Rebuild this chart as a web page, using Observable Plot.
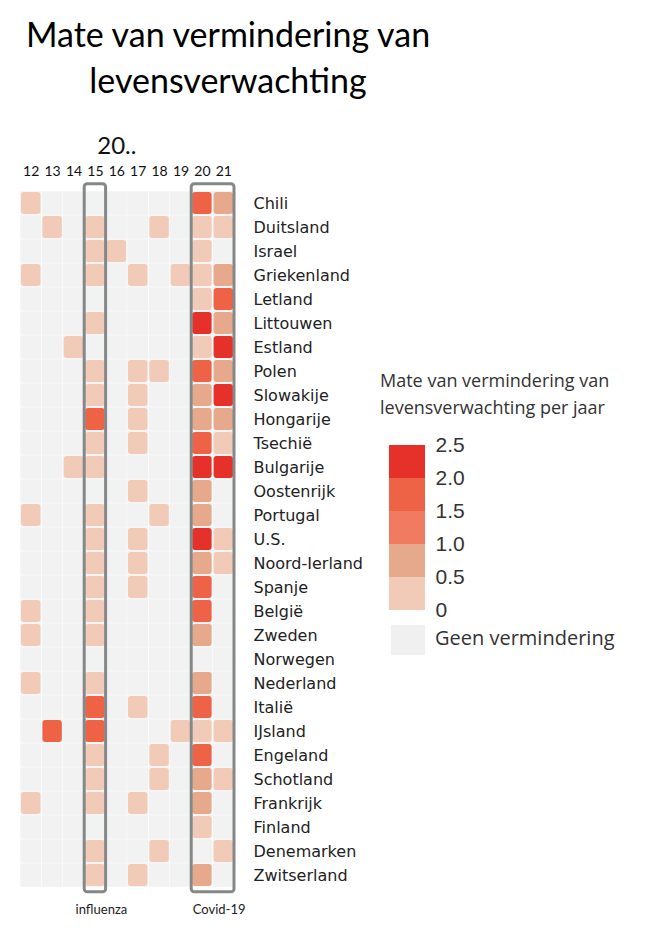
<!DOCTYPE html>
<html>
<head>
<meta charset="utf-8">
<script src="https://cdn.jsdelivr.net/npm/d3@7"></script>
<script src="https://cdn.jsdelivr.net/npm/@observablehq/plot@0.6"></script>
<style>
  body { margin: 0; background: #fff; }
  #wrap { position: relative; width: 672px; height: 933px; overflow: hidden; background: #fff; }
  #title { position: absolute; left: 0; top: 11px; width: 456px; text-align: center; font-family: Lato, sans-serif; font-size: 34px; line-height: 46px; color: #000; }
  #chart { position: absolute; left: 0; top: 120px; }
  #legendbox { position: absolute; left: 366px; top: 360px; width: 280px; height: 305px; background: #fff; }
  #legend-title { position: absolute; left: 14px; top: 7px; font-family: "Open Sans", sans-serif; font-size: 18px; line-height: 27px; color: #333; white-space: nowrap; }
  #legend { position: absolute; left: 23px; top: 70px; }
  #nodecl { position: absolute; left: 25px; top: 265px; width: 34px; height: 30px; background: #f0f0f0; }
  #nodecl-label { position: absolute; left: 69px; top: 263px; font-family: "Open Sans", sans-serif; font-size: 20px; line-height: 30px; color: #333; white-space: nowrap; }
</style>
</head>
<body>
<div id="wrap">
  <div id="title">Mate van vermindering van<br>levensverwachting</div>
  <div id="chart"></div>
  <div id="legendbox">
    <div id="legend-title">Mate van vermindering van<br>levensverwachting per jaar</div>
    <div id="legend"></div>
    <div id="nodecl"></div>
    <div id="nodecl-label">Geen vermindering</div>
  </div>
</div>
<script>
// ---- data ----
const yearPrefix = "20..";
const years = [12, 13, 14, 15, 16, 17, 18, 19, 20, 21];
const countries = ["Chili", "Duitsland", "Israel", "Griekenland", "Letland", "Littouwen", "Estland",
  "Polen", "Slowakije", "Hongarije", "Tsechië", "Bulgarije", "Oostenrijk", "Portugal", "U.S.",
  "Noord-Ierland", "Spanje", "België", "Zweden", "Norwegen", "Nederland", "Italië", "IJsland",
  "Engeland", "Schotland", "Frankrijk", "Finland", "Denemarken", "Zwitserland"];
// decline in life expectancy (years) per country, for years 2012..2021 (0 = no decline)
const chili         = [0.2, 0,   0,   0,   0,   0,   0,   0,   1.7, 0.8];
const duitsland     = [0,   0.2, 0,   0.3, 0,   0,   0.2, 0,   0.3, 0.3];
const israel        = [0,   0,   0,   0.2, 0.2, 0,   0,   0,   0.3, 0];
const griekenland   = [0.2, 0,   0,   0.3, 0,   0.2, 0,   0.2, 0.4, 0.7];
const letland       = [0,   0,   0,   0,   0,   0,   0,   0,   0.3, 1.7];
const littouwen     = [0,   0,   0,   0.3, 0,   0,   0,   0,   2.2, 0.7];
const estland       = [0,   0,   0.2, 0,   0,   0,   0,   0,   0.3, 2.3];
const polen         = [0,   0,   0,   0.3, 0,   0.2, 0.2, 0,   1.6, 0.8];
const slowakije     = [0,   0,   0,   0.3, 0,   0.2, 0,   0,   0.8, 2.2];
const hongarije     = [0,   0,   0,   1.6, 0,   0.2, 0,   0,   0.7, 0.8];
const tsechie       = [0,   0,   0,   0.3, 0,   0.2, 0,   0,   1.7, 0.4];
const bulgarije     = [0,   0,   0.2, 0.3, 0,   0,   0,   0,   2.3, 2.3];
const oostenrijk    = [0,   0,   0,   0,   0,   0.2, 0,   0,   0.8, 0];
const portugal      = [0.2, 0,   0,   0.2, 0,   0,   0.2, 0,   0.8, 0];
const us            = [0,   0,   0,   0.3, 0,   0.2, 0,   0,   2.2, 0.4];
const noordIerland  = [0,   0,   0,   0.3, 0,   0.2, 0,   0,   0.7, 0.3];
const spanje        = [0,   0,   0,   0.3, 0,   0.2, 0,   0,   1.6, 0];
const belgie        = [0.2, 0,   0,   0.3, 0,   0,   0,   0,   1.7, 0];
const zweden        = [0.2, 0,   0,   0.3, 0,   0,   0,   0,   0.8, 0];
const norwegen      = [0,   0,   0,   0,   0,   0,   0,   0,   0,   0];
const nederland     = [0.2, 0,   0,   0.3, 0,   0,   0,   0,   0.7, 0];
const italie        = [0,   0,   0,   1.7, 0,   0.2, 0,   0,   1.7, 0];
const ijsland       = [0,   1.7, 0,   1.7, 0,   0,   0,   0.2, 0.3, 0.3];
const engeland      = [0,   0,   0,   0.3, 0,   0,   0.2, 0,   1.8, 0];
const schotland     = [0,   0,   0,   0.3, 0,   0,   0.2, 0,   0.8, 0.3];
const frankrijk     = [0.2, 0,   0,   0.3, 0,   0.2, 0,   0,   0.7, 0];
const finland       = [0,   0,   0,   0,   0,   0,   0,   0,   0.3, 0];
const denemarken    = [0,   0,   0,   0.3, 0,   0,   0.2, 0,   0,   0.3];
const zwitserland   = [0,   0,   0,   0.3, 0,   0.2, 0,   0,   0.8, 0];

const rows = [chili, duitsland, israel, griekenland, letland, littouwen, estland, polen, slowakije,
  hongarije, tsechie, bulgarije, oostenrijk, portugal, us, noordIerland, spanje, belgie, zweden,
  norwegen, nederland, italie, ijsland, engeland, schotland, frankrijk, finland, denemarken, zwitserland];

const binEdges = [0, 0.5, 1.0, 1.5, 2.0, 2.5];
const binColors = ["#f2cab8", "#e6a98b", "#f07b60", "#ee6345", "#e6302a"];
const noDeclineColor = "#f2f2f2";
const highlights = [
  {label: "influenza", from: 15, to: 15},
  {label: "Covid-19", from: 20, to: 21}
];

// ---- table ----
const table = [];
rows.forEach((vals, r) => vals.forEach((v, j) => table.push({country: countries[r], row: r, year: years[j], value: v})));

const colorScale = {type: "threshold", domain: binEdges.slice(1, -1), range: binColors};

const chart = Plot.plot({
  width: 672,
  height: 800,
  marginLeft: 20,
  marginRight: 438,
  marginTop: 71,
  marginBottom: 33,
  style: {background: "transparent", overflow: "visible"},
  x: {domain: [years[0] - 0.5, years[years.length - 1] + 0.5], axis: null},
  y: {domain: [-0.5, countries.length - 0.5], reverse: true, axis: null},
  color: colorScale,
  marks: [
    Plot.rect(table, {x1: d => d.year - 0.5, x2: d => d.year + 0.5, y1: d => d.row - 0.5, y2: d => d.row + 0.5, fill: noDeclineColor, inset: 0.25}),
    Plot.rect(table.filter(d => d.value > 0), {x1: d => d.year - 0.5, x2: d => d.year + 0.5, y1: d => d.row - 0.5, y2: d => d.row + 0.5, fill: "value", inset: 1, rx: 3}),
    Plot.rect(highlights, {x1: d => d.from - 0.5, x2: d => d.to + 0.5, y1: () => -0.8, y2: () => countries.length - 0.3, fill: "none", stroke: "#858888", strokeWidth: 3, rx: 3}),
    Plot.text(years, {x: d => d, text: d => String(d), frameAnchor: "top", lineAnchor: "bottom", dy: -16, fontFamily: "Lato", fontSize: 14, fill: "#111"}),
    Plot.text([yearPrefix], {x: () => 16, text: d => d, frameAnchor: "top", lineAnchor: "bottom", dy: -38, fontFamily: "Lato", fontSize: 24, fill: "#111"}),
    Plot.text(countries, {y: (d, i) => i, text: d => d, frameAnchor: "right", textAnchor: "start", dx: 19, fontFamily: "DejaVu Sans", fontSize: 16, fill: "#222"}),
    Plot.text(highlights, {x: d => (d.from + d.to) / 2, text: "label", frameAnchor: "bottom", lineAnchor: "bottom", dy: 26, dx: 6, fontFamily: "Lato", fontSize: 13, fill: "#222"})
  ]
});
document.getElementById("chart").appendChild(chart);

const bins = binColors.map((c, i) => ({lo: binEdges[i], hi: binEdges[i + 1]}));
const legend = Plot.plot({
  width: 120,
  height: 200,
  marginLeft: 0,
  marginRight: 84,
  marginTop: 15,
  marginBottom: 20,
  style: {background: "transparent", overflow: "visible"},
  x: {axis: null},
  y: {domain: [binEdges[0], binEdges[binEdges.length - 1]], axis: null},
  color: colorScale,
  marks: [
    Plot.rect(bins, {y1: "lo", y2: "hi", fill: "lo"}),
    Plot.text(binEdges, {y: d => d, text: d => d === 0 ? "0" : d.toFixed(1), frameAnchor: "right", textAnchor: "start", dx: 10, fontFamily: "Liberation Sans", fontSize: 21, fill: "#333"})
  ]
});
document.getElementById("legend").appendChild(legend);
</script>
</body>
</html>
